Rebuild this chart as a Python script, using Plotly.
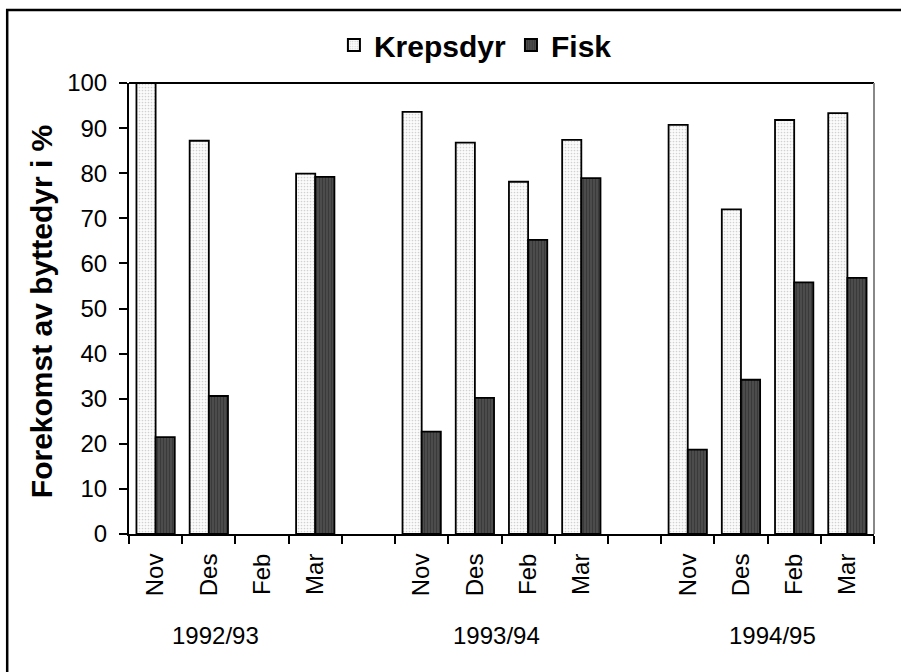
import plotly.graph_objects as go

# ---- data ----
cat_ids = ["92-Nov", "92-Des", "92-Feb", "92-Mar", "gap1",
           "93-Nov", "93-Des", "93-Feb", "93-Mar", "gap2",
           "94-Nov", "94-Des", "94-Feb", "94-Mar"]
month_labels = ["Nov", "Des", "Feb", "Mar", "",
                "Nov", "Des", "Feb", "Mar", "",
                "Nov", "Des", "Feb", "Mar"]
krepsdyr = [100, 87.2, None, 79.9, None,
            93.6, 86.8, 78.1, 87.4, None,
            90.7, 72.0, 91.8, 93.3]
fisk = [21.5, 30.6, None, 79.2, None,
        22.7, 30.2, 65.2, 78.9, None,
        18.7, 34.2, 55.8, 56.8]
seasons = ["1992/93", "1993/94", "1994/95"]
season_x = [0.1166, 0.4933, 0.8633]
y_ticks = list(range(0, 101, 10))

FONT = "Arial, 'Liberation Sans', sans-serif"

fig = go.Figure()
fig.add_trace(go.Bar(
    x=cat_ids, y=krepsdyr, name="<b>Krepsdyr</b>",
    marker=dict(color="#f7f7f7",
                line=dict(color="black", width=1.8),
                pattern=dict(shape=".", fgcolor="#a8a8a8", bgcolor="#fbfbfb",
                             size=3, solidity=0.25)),
))
fig.add_trace(go.Bar(
    x=cat_ids, y=fisk, name="<b>Fisk</b>",
    marker=dict(color="#404040",
                line=dict(color="black", width=1.8),
                pattern=dict(shape="|", fgcolor="#262626", bgcolor="#4e4e4e",
                             size=3, solidity=0.4)),
))

annotations = [
    dict(text=s, x=xp, y=-0.2253, xref="paper", yref="paper",
         showarrow=False, xanchor="center", yanchor="middle",
         font=dict(family=FONT, size=24, color="black"))
    for s, xp in zip(seasons, season_x)
]
annotations.append(dict(
    text="<b>Forekomst av byttedyr i %</b>", x=-0.118, y=0.492,
    xref="paper", yref="paper", showarrow=False, textangle=-90,
    xanchor="center", yanchor="middle",
    font=dict(family=FONT, size=30, color="black")))

shapes = [
    # outer chart frame (only top/left fall inside the canvas)
    dict(type="rect", xref="paper", yref="paper",
         x0=-0.1635, x1=1.05, y0=-0.33, y1=1.162,
         line=dict(color="black", width=2.5), layer="below"),
    # plot-area top border
    dict(type="line", xref="paper", yref="paper", x0=0, x1=1, y0=1, y1=1,
         line=dict(color="black", width=2)),
    # plot-area right border
    dict(type="line", xref="paper", yref="paper", x0=1, x1=1, y0=0, y1=1,
         line=dict(color="#888888", width=2)),
]

fig.update_layout(
    width=901, height=672,
    margin=dict(l=129, r=27, t=83, b=138, autoexpand=False),
    paper_bgcolor="white", plot_bgcolor="white",
    barmode="group", bargap=0.28, bargroupgap=0,
    font=dict(family=FONT, size=24, color="black"),
    showlegend=True,
    legend=dict(orientation="h", x=0.465, y=1.084, xanchor="center",
                yanchor="middle", font=dict(family=FONT, size=30, color="black"),
                bgcolor="rgba(0,0,0,0)", itemsizing="constant",
                traceorder="normal"),
    xaxis=dict(type="category", categoryorder="array", categoryarray=cat_ids,
               tickmode="array", tickvals=cat_ids, ticktext=month_labels,
               tickson="boundaries", ticks="outside", ticklen=8,
               tickcolor="black", tickwidth=1.5, tickangle=-90,
               ticklabelstandoff=8,
               showline=True, linecolor="black", linewidth=2,
               showgrid=False, range=[-0.5, 13.5], automargin=False,
               tickfont=dict(family=FONT, size=24, color="black")),
    yaxis=dict(range=[0, 100], tickmode="array", tickvals=y_ticks,
               ticks="outside", ticklen=8, tickcolor="black", tickwidth=1.5,
               ticklabelstandoff=7,
               showline=True, linecolor="black", linewidth=2,
               showgrid=False, zeroline=False, automargin=False,
               tickfont=dict(family=FONT, size=24, color="black")),
    annotations=annotations,
    shapes=shapes,
)

fig.write_html("out.html",
               config={"displayModeBar": False},
               post_script="document.body.style.margin='0';"
                           "document.body.style.overflow='hidden';")
